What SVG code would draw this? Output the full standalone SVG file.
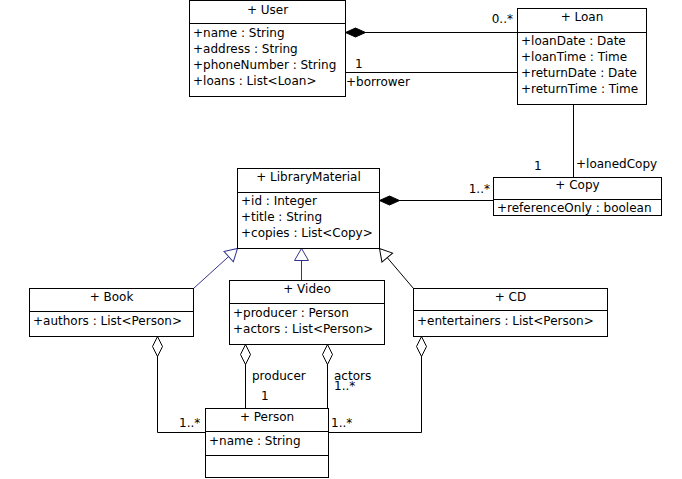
<svg xmlns="http://www.w3.org/2000/svg" width="682" height="479" viewBox="0 0 682 479">
<style>
.box{fill:#fff;stroke:#000;stroke-width:1}
.sep{stroke:#000;stroke-width:1;fill:none}
text{font-family:"DejaVu Sans","Liberation Sans",sans-serif;font-size:12px;fill:#000}
.t{text-anchor:middle}
.c{fill:none;stroke:#000;stroke-width:1}
.g{fill:none;stroke:#33338f;stroke-width:1}
</style>
<defs>
<marker id="comp" markerUnits="userSpaceOnUse" markerWidth="21" markerHeight="11" viewBox="0 0 21 11" refX="20" refY="5" orient="auto-start-reverse" overflow="visible">
<path d="M0,5 L10,0.5 L20,5 L10,9.5 Z" fill="#000" stroke="#000" stroke-width="1"/>
</marker>
<marker id="agg" markerUnits="userSpaceOnUse" markerWidth="21" markerHeight="11" viewBox="0 0 21 11" refX="20" refY="5" orient="auto-start-reverse" overflow="visible">
<path d="M0,5 L10,0 L20,5 L10,10 Z" fill="#fff" stroke="#000" stroke-width="1"/>
</marker>
<marker id="genB" markerUnits="userSpaceOnUse" markerWidth="13" markerHeight="15" viewBox="0 0 13 15" refX="12" refY="7" orient="auto" overflow="visible">
<path d="M0,0 L12,7 L0,14 Z" fill="#fff" stroke="#33338f" stroke-width="1"/>
</marker>
<marker id="genK" markerUnits="userSpaceOnUse" markerWidth="13" markerHeight="15" viewBox="0 0 13 15" refX="12" refY="7" orient="auto" overflow="visible">
<path d="M0,0 L12,7 L0,14 Z" fill="#fff" stroke="#000" stroke-width="1"/>
</marker>
</defs>

<g id="connectors">
<path class="c" d="M345.5,32.5 H517.5" marker-start="url(#comp)"/>
<path class="c" d="M345.5,72.5 H517.5"/>
<path class="c" d="M573.5,104.5 V177.5"/>
<path class="c" d="M379.5,200.5 H493.5" marker-start="url(#comp)"/>
<path class="g" d="M193.5,288.5 L237.5,248.5" marker-end="url(#genB)"/>
<path class="g" d="M301.5,280.5 V248.5" marker-end="url(#genB)"/>
<path class="c" d="M413.5,288.5 L379.5,248.5" marker-end="url(#genK)"/>
<path class="c" d="M157.5,336.5 V432.5 H205.5" marker-start="url(#agg)"/>
<path class="c" d="M245.5,344.5 V408.5" marker-start="url(#agg)"/>
<path class="c" d="M327.5,344.5 V408.5" marker-start="url(#agg)"/>
<path class="c" d="M421.5,336.5 V432.5 H328.5" marker-start="url(#agg)"/>
<text x="513" y="23" text-anchor="end">0..*</text>
<text x="355" y="68">1</text>
<text x="346" y="86">+borrower</text>
<text x="576" y="168">+loanedCopy</text>
<text x="534" y="170">1</text>
<text x="490" y="193" text-anchor="end">1..*</text>
<text x="252" y="380">producer</text>
<text x="261" y="400">1</text>
<text x="334" y="380">actors</text>
<text x="334" y="390">1..*</text>
<text x="179" y="427">1..*</text>
<text x="331" y="427">1..*</text>
</g>

<g id="User">
<rect class="box" x="189.5" y="0.5" width="156" height="96"/>
<path class="sep" d="M189.5,23.5 H345.5"/>
<text class="t" x="267.5" y="14">+ User</text>
<text x="193" y="37">+name : String</text>
<text x="193" y="53">+address : String</text>
<text x="193" y="69">+phoneNumber : String</text>
<text x="193" y="85">+loans : List&lt;Loan&gt;</text>
</g>

<g id="Loan">
<rect class="box" x="517.5" y="8.5" width="129" height="96"/>
<path class="sep" d="M517.5,32.5 H646.5"/>
<text class="t" x="582" y="21">+ Loan</text>
<text x="521" y="45">+loanDate : Date</text>
<text x="521" y="61">+loanTime : Time</text>
<text x="521" y="77">+returnDate : Date</text>
<text x="521" y="93">+returnTime : Time</text>
</g>

<g id="Copy">
<rect class="box" x="493.5" y="177.5" width="168" height="38"/>
<path class="sep" d="M493.5,199.5 H661.5"/>
<text class="t" x="577.5" y="189">+ Copy</text>
<text x="497" y="212">+referenceOnly : boolean</text>
</g>

<g id="LibraryMaterial">
<rect class="box" x="237.5" y="168.5" width="142" height="80"/>
<path class="sep" d="M237.5,192.5 H379.5"/>
<text class="t" x="308.5" y="181">+ LibraryMaterial</text>
<text x="241" y="205">+id : Integer</text>
<text x="241" y="221">+title : String</text>
<text x="241" y="237">+copies : List&lt;Copy&gt;</text>
</g>

<g id="Book">
<rect class="box" x="29.5" y="288.5" width="164" height="48"/>
<path class="sep" d="M29.5,311.5 H193.5"/>
<text class="t" x="111.5" y="301">+ Book</text>
<text x="33" y="325">+authors : List&lt;Person&gt;</text>
</g>

<g id="Video">
<rect class="box" x="229.5" y="280.5" width="155" height="64"/>
<path class="sep" d="M229.5,303.5 H384.5"/>
<text class="t" x="307" y="293">+ Video</text>
<text x="233" y="317">+producer : Person</text>
<text x="233" y="333">+actors : List&lt;Person&gt;</text>
</g>

<g id="CD">
<rect class="box" x="413.5" y="288.5" width="194" height="48"/>
<path class="sep" d="M413.5,310.5 H607.5"/>
<text class="t" x="510.5" y="301">+ CD</text>
<text x="417" y="325">+entertainers : List&lt;Person&gt;</text>
</g>

<g id="Person">
<rect class="box" x="205.5" y="408.5" width="123" height="69"/>
<path class="sep" d="M205.5,431.5 H328.5 M205.5,455.5 H328.5"/>
<text class="t" x="267" y="421">+ Person</text>
<text x="209" y="445">+name : String</text>
</g>
</svg>
